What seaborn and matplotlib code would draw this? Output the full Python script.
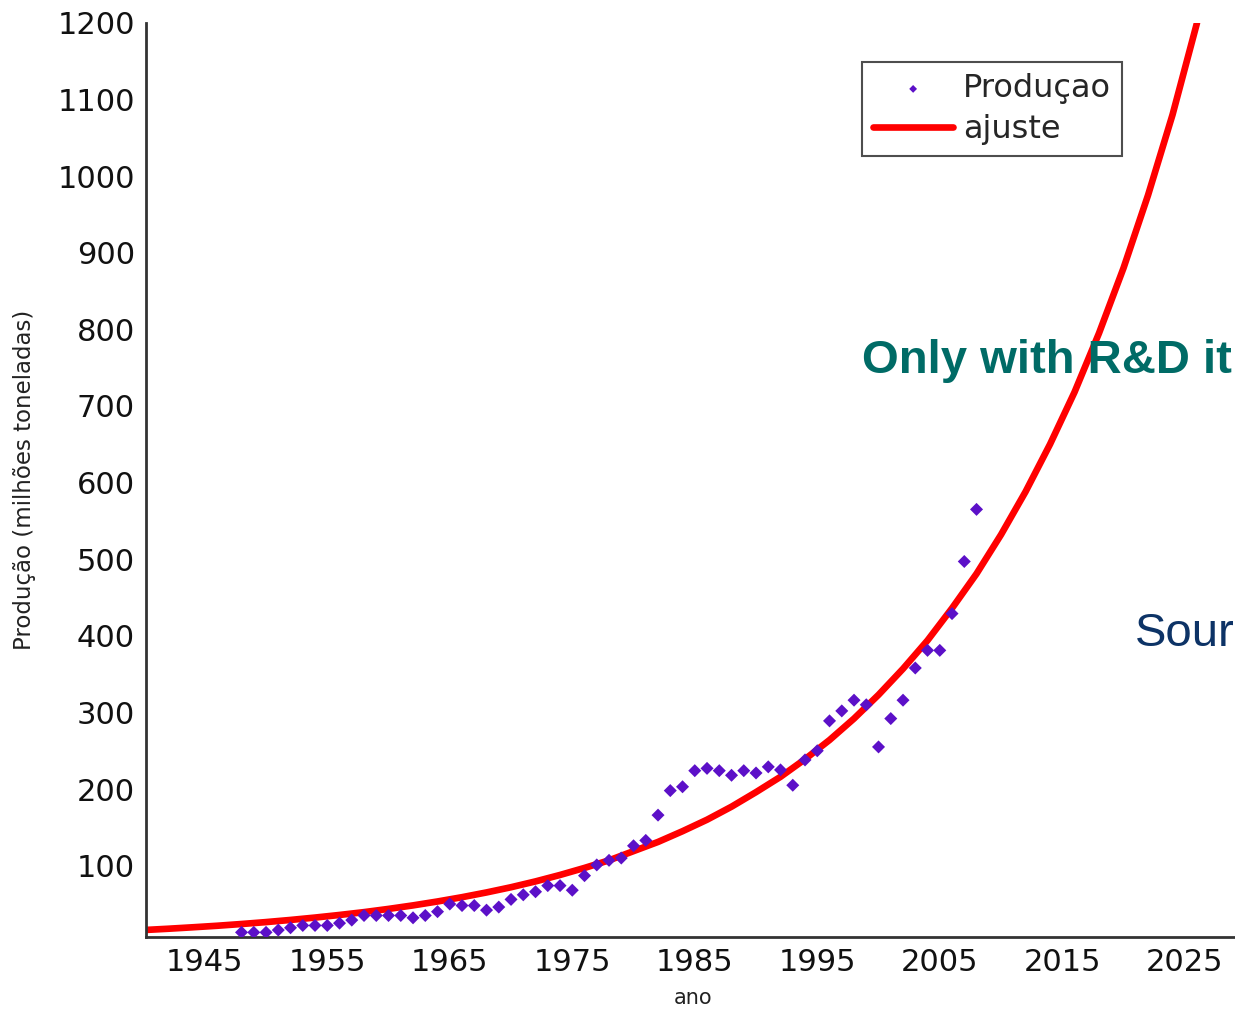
import seaborn as sns
import numpy as np
import pandas as pd
import matplotlib.pyplot as plt

# production (millions of tonnes)
years = list(range(1948, 2009))
producao = [13, 13, 13, 16, 19, 22, 22, 22, 25, 29,
            35, 35, 35, 35, 32, 35, 40, 50, 48, 48,
            42, 46, 56, 62, 66, 74, 74, 68, 87, 101,
            107, 110, 126, 133, 166, 198, 203, 224, 227, 224,
            218, 224, 221, 229, 225, 205, 238, 250, 289, 302,
            316, 310, 255, 292, 316, 358, 381, 381, 429, 497,
            565]

# fitted curve ("ajuste"), read every 2 years
fit_years = list(range(1940, 2027, 2))
fit_vals = [16, 17.7, 19.6, 21.6, 23.9, 26.4, 29.2, 32.3, 35.7, 39.4,
            43.6, 48.2, 53.3, 58.9, 65.1, 71.9, 79.5, 87.9, 97.1, 107,
            119, 131, 145, 160, 177, 196, 216, 239, 264, 292,
            323, 357, 394, 436, 481, 532, 588, 650, 718, 795,
            880, 975, 1080, 1200]

df = pd.DataFrame({'ano': years, 'prod': producao})
fit = pd.DataFrame({'ano': fit_years, 'val': fit_vals})

sns.set_style('white')
plt.rcParams['font.family'] = ['DejaVu Sans']

fig = plt.figure(figsize=(12.35, 10.09), dpi=100)
ax = fig.add_axes([0.1182, 0.0714, 0.8818, 0.906])

sns.lineplot(data=fit, x='ano', y='val', ax=ax, color='#ff0000', linewidth=4.8,
             label='ajuste', zorder=2)
sns.scatterplot(data=df, x='ano', y='prod', ax=ax, color='#5c10c8', marker='D',
                s=44, edgecolor='none', label='Produçao', zorder=3)

ax.set_xlim(1940.2, 2029.1)
ax.set_ylim(7, 1200)
ax.set_xticks(np.arange(1945, 2030, 5))
ax.set_xticklabels([str(y) if (y - 1945) % 10 == 0 else '' for y in range(1945, 2030, 5)])
ax.set_yticks(np.arange(100, 1201, 100))
ax.tick_params(axis='both', direction='in', length=9, width=1.5, labelsize=22,
               colors='#111111')
ax.tick_params(axis='x', pad=8)
ax.tick_params(axis='y', pad=8)

for side in ['top', 'right']:
    ax.spines[side].set_visible(False)
for side in ['left', 'bottom']:
    ax.spines[side].set_color('#333333')
    ax.spines[side].set_linewidth(2)

ax.set_xlabel('ano', fontsize=15, color='#222222')
ax.set_ylabel('Produção (milhões toneladas)', fontsize=16.5, color='#222222')
ax.xaxis.set_label_coords(0.502, -0.056)
ax.yaxis.set_label_coords(-0.101, 0.5)

handles, labels = ax.get_legend_handles_labels()
order = [1, 0]
leg = ax.legend([handles[i] for i in order], [labels[i] for i in order],
                loc='upper left', bbox_to_anchor=(0.6575, 0.957), borderaxespad=0,
                fontsize=23, frameon=True, fancybox=False, edgecolor='#222222',
                handlelength=2.5, handletextpad=0.3, borderpad=0.35,
                labelspacing=0.3, markerscale=0.6)
leg.get_frame().set_linewidth(1.5)

fig.text(0.698, 0.642, 'Only with R&D it', fontsize=34, fontweight='bold',
         color='#006b66', family='Liberation Sans', va='center')
fig.text(0.919, 0.372, 'Sour', fontsize=34, color='#0d3366',
         family='Liberation Sans', va='center')

fig.savefig('out.png', dpi=100)
